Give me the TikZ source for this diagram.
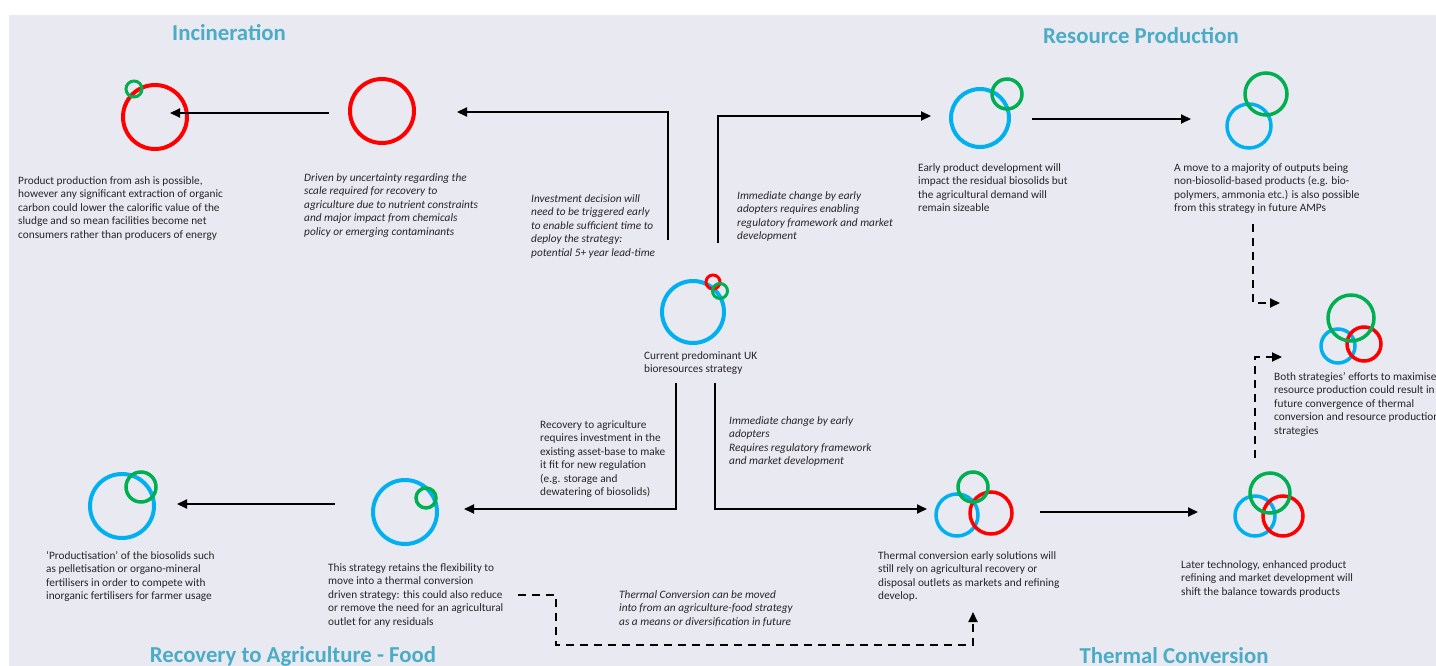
\documentclass[tikz,border=0pt]{standalone}
\usepackage{fontspec}
\setmainfont{Carlito}
\usetikzlibrary{arrows.meta}
\definecolor{bgcol}{HTML}{E9E9F2}
\definecolor{ttlcol}{HTML}{4BACC6}
\definecolor{txtcol}{HTML}{262626}
\definecolor{cblue}{HTML}{00B0F0}
\definecolor{cred}{HTML}{FF0000}
\definecolor{cgreen}{HTML}{00B050}
\tikzset{
  txt/.style={anchor=north west, inner sep=0pt, align=left, text=txtcol, font=\fontsize{11.3}{13.5}\selectfont},
  itxt/.style={txt, font=\fontsize{11.3}{13.5}\selectfont\itshape},
  ttl/.style={anchor=base, inner sep=0pt, text=ttlcol, font=\fontsize{22.8}{26}\selectfont\bfseries},
  ring/.style={circle, inner sep=0pt, line width=#1},
  ring/.default=3.5pt,
  arr/.style={line width=2pt, -{Triangle[length=10pt,width=9pt]}},
  darr/.style={arr, dash pattern=on 8pt off 6pt},
}
\begin{document}
\begin{tikzpicture}[x=1pt,y=-1pt]
\useasboundingbox (0,0) rectangle (1436,666);
\fill[white] (0,0) rectangle (1436,666);
\fill[bgcol] (9,15) rectangle (1436,666);

% titles
\node[ttl] (tInc) at (229,41) {Incineration};
\node[ttl] (tRes) at (1141,44) {Resource Production};
\node[ttl] (tRec) at (293,662) {Recovery to Agriculture - Food};
\node[ttl] (tThe) at (1174,663) {Thermal Conversion};

% circles: incineration
\node[ring=4pt, draw=cred, minimum size=64pt] (incA) at (155,117) {};
\node[ring=3pt, draw=cgreen, minimum size=16pt] (incAg) at (134,89) {};
\node[ring=4pt, draw=cred, minimum size=64pt] (incB) at (382,111) {};

% central
\node[ring=4pt, draw=cblue, minimum size=62pt] (cur) at (693,312) {};
\node[ring=3pt, draw=cred, minimum size=14pt] (curR) at (713,282) {};
\node[ring=3pt, draw=cgreen, minimum size=15pt] (curG) at (720,291) {};

% resource production
\node[ring=4pt, draw=cblue, minimum size=58pt] (resA) at (980,118) {};
\node[ring=3.5pt, draw=cgreen, minimum size=30pt] (resAg) at (1007,94) {};
\node[ring, draw=cblue, minimum size=44pt] (resB) at (1249,126) {};
\node[ring, draw=cgreen, minimum size=42pt] (resBg) at (1266,94) {};

% convergence
\node[ring, draw=cblue, minimum size=34pt] (conB) at (1338,346) {};
\node[ring, draw=cred, minimum size=34pt] (conR) at (1364,344) {};
\node[ring, draw=cgreen, minimum size=46pt] (conG) at (1351,318) {};

% thermal conversion
\node[ring, draw=cblue, minimum size=42pt] (thA) at (957,515) {};
\node[ring, draw=cred, minimum size=42pt] (thAr) at (991,513) {};
\node[ring, draw=cgreen, minimum size=30pt] (thAg) at (973,487) {};
\node[ring, draw=cblue, minimum size=40pt] (thB) at (1255,516) {};
\node[ring, draw=cred, minimum size=40pt] (thBr) at (1283,516) {};
\node[ring, draw=cgreen, minimum size=40pt] (thBg) at (1270,493) {};

% recovery to agriculture
\node[ring=4pt, draw=cblue, minimum size=64pt] (recA) at (122,506) {};
\node[ring, draw=cgreen, minimum size=30pt] (recAg) at (141,487) {};
\node[ring=4pt, draw=cblue, minimum size=64pt] (recB) at (405,512) {};
\node[ring, draw=cgreen, minimum size=20pt] (recBg) at (426,498) {};

% texts
\node[txt] (xIncA) at (18,176) {Product production from ash is possible,\\however any significant extraction of organic\\carbon could lower the calorific value of the\\sludge and so mean facilities become net\\consumers rather than producers of energy};
\node[itxt] (xIncB) at (304,173) {Driven by uncertainty regarding the\\scale required for recovery to\\agriculture due to nutrient constraints\\and major impact from chemicals\\policy or emerging contaminants};
\node[itxt] (xInv) at (531,194) {Investment decision will\\need to be triggered early\\to enable sufficient time to\\deploy the strategy:\\potential 5+ year lead-time};
\node[itxt] (xImmT) at (737,191) {Immediate change by early\\adopters requires enabling\\regulatory framework and market\\development};
\node[txt] (xResA) at (918,163) {Early product development will\\impact the residual biosolids but\\the agricultural demand will\\remain sizeable};
\node[txt] (xResB) at (1174,163) {A move to a majority of outputs being\\non-biosolid-based products (e.g. bio-\\polymers, ammonia etc.) is also possible\\from this strategy in future AMPs};
\node[txt] (xCon) at (1274,372) {Both strategies’ efforts to maximise\\resource production could result in\\future convergence of thermal\\conversion and resource production\\strategies};
\node[txt] (xCur) at (644,351) {Current predominant UK\\bioresources strategy};
\node[txt] (xRecInv) at (540,420) {Recovery to agriculture\\requires investment in the\\existing asset-base to make\\it fit for new regulation\\(e.g. storage and\\dewatering of biosolids)};
\node[itxt] (xImmB) at (729,416) {Immediate change by early\\adopters\\Requires regulatory framework\\and market development};
\node[itxt] (xMove) at (619,590) {Thermal Conversion can be moved\\into from an agriculture-food strategy\\as a means or diversification in future};
\node[txt] (xThA) at (878,551) {Thermal conversion early solutions will\\still rely on agricultural recovery or\\disposal outlets as markets and refining\\develop.};
\node[txt] (xThB) at (1181,560) {Later technology, enhanced product\\refining and market development will\\shift the balance towards products};
\node[txt] (xRecA) at (46,551) {‘Productisation’ of the biosolids such\\as pelletisation or organo-mineral\\fertilisers in order to compete with\\inorganic fertilisers for farmer usage};
\node[txt] (xRecB) at (328,563) {This strategy retains the flexibility to\\move into a thermal conversion\\driven strategy: this could also reduce\\or remove the need for an agricultural\\outlet for any residuals};

% connector end points
\coordinate (pIncBs) at (329,113);
\coordinate (pIncAe) at (170,113);
\coordinate (pInvS) at (668,240);
\coordinate (pInvE) at (457,112);
\coordinate (pImmS) at (718,243);
\coordinate (pImmE) at (931,116);
\coordinate (pResAs) at (1032,119);
\coordinate (pResBe) at (1191,119);
\coordinate (pRecS) at (676,383);
\coordinate (pRecE) at (464,509);
\coordinate (pThS) at (715,383);
\coordinate (pThE) at (927,509);
\coordinate (pThAs) at (1040,512);
\coordinate (pThBe) at (1198,512);
\coordinate (pRecBs) at (335,504);
\coordinate (pRecAe) at (177,504);
\coordinate (pD1s) at (1253,224);
\coordinate (pD1e) at (1280,303);
\coordinate (pD2s) at (1255,458);
\coordinate (pD2e) at (1282,357);
\coordinate (pD3s) at (518,595);
\coordinate (pD3a) at (556,645);
\coordinate (pD3b) at (973,645);
\coordinate (pD3e) at (973,612);

% connectors
\draw[arr] (pIncBs) -- (pIncAe);
\draw[arr] (pInvS) |- (pInvE);
\draw[arr] (pImmS) |- (pImmE);
\draw[arr] (pResAs) -- (pResBe);
\draw[arr] (pRecS) |- (pRecE);
\draw[arr] (pThS) |- (pThE);
\draw[arr] (pThAs) -- (pThBe);
\draw[arr] (pRecBs) -- (pRecAe);
\draw[darr] (pD1s) |- (pD1e);
\draw[darr] (pD2s) |- (pD2e);
\draw[darr] (pD3s) -| (pD3a) -- (pD3b) -- (pD3e);
\end{tikzpicture}
\end{document}
